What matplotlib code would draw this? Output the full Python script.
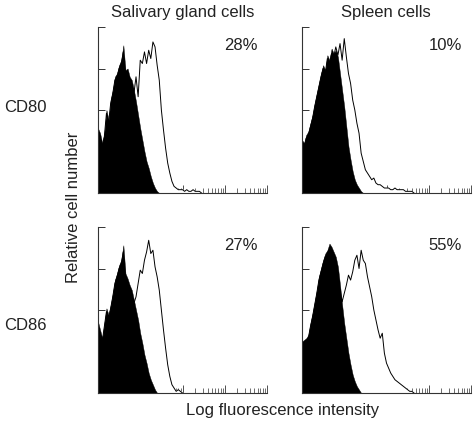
import numpy as np
import matplotlib
matplotlib.use('Agg')
import matplotlib.pyplot as plt

plt.rcParams['font.family'] = ['Liberation Sans', 'DejaVu Sans']

# histogram heights (fraction of max), 20 bins per log decade starting at 10^0
BINS_PER_DECADE = 20

cd80_sal_ctrl = [0.39, 0.36, 0.30, 0.36, 0.50, 0.44, 0.56, 0.62, 0.70, 0.72,
                 0.77, 0.80, 0.89, 0.74, 0.75, 0.70, 0.68, 0.62, 0.55, 0.47,
                 0.39, 0.32, 0.25, 0.19, 0.15, 0.10, 0.06, 0.03, 0.01, 0.0]
cd80_sal_stain = [0.37, 0.34, 0.28, 0.34, 0.48, 0.42, 0.54, 0.60, 0.68, 0.70,
                  0.75, 0.78, 0.85, 0.72, 0.72, 0.66, 0.64, 0.60, 0.70, 0.58,
                  0.80, 0.78, 0.85, 0.78, 0.86, 0.81, 0.91, 0.88, 0.77, 0.68,
                  0.50, 0.38, 0.27, 0.18, 0.12, 0.07, 0.04, 0.03, 0.02, 0.02,
                  0.02, 0.01, 0.02, 0.01, 0.01, 0.02, 0.01, 0.01, 0.01, 0.0]

cd80_spl_ctrl = [0.32, 0.30, 0.35, 0.37, 0.42, 0.47, 0.54, 0.60, 0.66, 0.72,
                 0.77, 0.74, 0.83, 0.80, 0.87, 0.84, 0.86, 0.82, 0.72, 0.62,
                 0.52, 0.40, 0.28, 0.20, 0.13, 0.08, 0.05, 0.03, 0.01, 0.0]
cd80_spl_stain = [0.30, 0.28, 0.33, 0.35, 0.40, 0.45, 0.52, 0.58, 0.64, 0.70,
                  0.75, 0.72, 0.81, 0.78, 0.84, 0.82, 0.88, 0.83, 0.90, 0.80,
                  0.93, 0.82, 0.72, 0.66, 0.56, 0.50, 0.42, 0.36, 0.24, 0.19,
                  0.14, 0.12, 0.10, 0.08, 0.09, 0.06, 0.05, 0.05, 0.04, 0.03,
                  0.03, 0.03, 0.02, 0.02, 0.03, 0.02, 0.02, 0.02, 0.02, 0.01,
                  0.01, 0.01, 0.01, 0.0]

cd86_sal_ctrl = [0.43, 0.38, 0.33, 0.42, 0.51, 0.47, 0.53, 0.60, 0.68, 0.72,
                 0.77, 0.80, 0.89, 0.72, 0.69, 0.65, 0.62, 0.56, 0.50, 0.44,
                 0.36, 0.30, 0.23, 0.18, 0.12, 0.08, 0.05, 0.02, 0.0]
cd86_sal_stain = [0.41, 0.36, 0.31, 0.40, 0.49, 0.45, 0.51, 0.58, 0.66, 0.70,
                  0.75, 0.78, 0.85, 0.70, 0.66, 0.62, 0.58, 0.54, 0.58, 0.66,
                  0.74, 0.72, 0.80, 0.85, 0.92, 0.84, 0.86, 0.76, 0.70, 0.62,
                  0.50, 0.38, 0.27, 0.17, 0.10, 0.05, 0.03, 0.01, 0.02, 0.01,
                  0.0]

cd86_spl_ctrl = [0.31, 0.32, 0.33, 0.35, 0.42, 0.48, 0.55, 0.62, 0.70, 0.75,
                 0.80, 0.84, 0.86, 0.90, 0.88, 0.85, 0.82, 0.76, 0.65, 0.53,
                 0.42, 0.33, 0.24, 0.17, 0.11, 0.07, 0.04, 0.02, 0.0]
cd86_spl_stain = [0.29, 0.30, 0.31, 0.33, 0.40, 0.46, 0.53, 0.60, 0.68, 0.73,
                  0.78, 0.82, 0.84, 0.87, 0.85, 0.82, 0.78, 0.72, 0.62, 0.55,
                  0.60, 0.65, 0.71, 0.68, 0.73, 0.80, 0.83, 0.75, 0.86, 0.80,
                  0.78, 0.70, 0.64, 0.58, 0.50, 0.44, 0.38, 0.33, 0.36, 0.24,
                  0.18, 0.15, 0.12, 0.10, 0.08, 0.07, 0.06, 0.05, 0.04, 0.03,
                  0.02, 0.01, 0.01, 0.0]

col_titles = ['Salivary gland cells', 'Spleen cells']
row_titles = ['CD80', 'CD86']
percent = [['28%', '10%'], ['27%', '55%']]

panels = [[(cd80_sal_ctrl, cd80_sal_stain), (cd80_spl_ctrl, cd80_spl_stain)],
          [(cd86_sal_ctrl, cd86_sal_stain), (cd86_spl_ctrl, cd86_spl_stain)]]

W, H = 474, 429
fig = plt.figure(figsize=(W/100, H/100), dpi=100)

lefts = [98, 302]
tops = [27, 227]
pw, ph = 169, 166
txt = '#222222'
axc = '#333333'
fs = 12

def xvals(v):
    return 10 ** (np.arange(len(v)) / BINS_PER_DECADE)

minor = [k * 10**d for d in range(4) for k in range(2, 10)]

for r in range(2):
    for c in range(2):
        ax = fig.add_axes([lefts[c]/W, 1 - (tops[r]+ph)/H, pw/W, ph/H])
        ctrl, stain = panels[r][c]
        xs = xvals(stain)
        ax.fill_between(xs, stain, color='white', zorder=1)
        ax.plot(xs, stain, color='black', lw=0.7, zorder=2)
        xc = xvals(ctrl)
        ax.fill_between(xc, ctrl, color='black', lw=0.3, zorder=3)
        ax.set_xscale('log')
        ax.set_xlim(1, 1e4)
        ax.set_ylim(0, 1)
        ax.set_axisbelow(True)
        for s in ['top', 'right']:
            ax.spines[s].set_visible(False)
        for s in ['left', 'bottom']:
            ax.spines[s].set_linewidth(0.8)
            ax.spines[s].set_color(axc)
            ax.spines[s].set_zorder(4)
        ax.set_yticks([0.25, 0.5, 0.75, 1.0])
        ax.tick_params(axis='y', direction='in', length=5, width=0.7,
                       labelleft=False, color=axc)
        ax.set_xticks([10, 100, 1000, 10000])
        ax.set_xticks(minor, minor=True)
        ax.tick_params(axis='x', which='major', direction='in', length=6,
                       width=0.6, labelbottom=False, color=axc)
        ax.tick_params(axis='x', which='minor', direction='in', length=3.5,
                       width=0.5, labelbottom=False, color=axc)
        ax.text(0.945, 0.89, percent[r][c], transform=ax.transAxes,
                ha='right', va='center', fontsize=fs, color=txt)

fig.text(183/W, 1 - 12/H, col_titles[0], ha='center', va='center', fontsize=fs, color=txt)
fig.text(386/W, 1 - 12/H, col_titles[1], ha='center', va='center', fontsize=fs, color=txt)
fig.text(4/W, 1 - 108/H, row_titles[0], ha='left', va='center', fontsize=fs, color=txt)
fig.text(4/W, 1 - 325/H, row_titles[1], ha='left', va='center', fontsize=fs, color=txt)
fig.text(73/W, 1 - 207/H, 'Relative cell number', ha='center', va='center',
         rotation=90, fontsize=fs, color=txt)
fig.text(283/W, 1 - 411/H, 'Log fluorescence intensity', ha='center', va='center',
         fontsize=fs, color=txt)

fig.savefig('out.png', dpi=100)
